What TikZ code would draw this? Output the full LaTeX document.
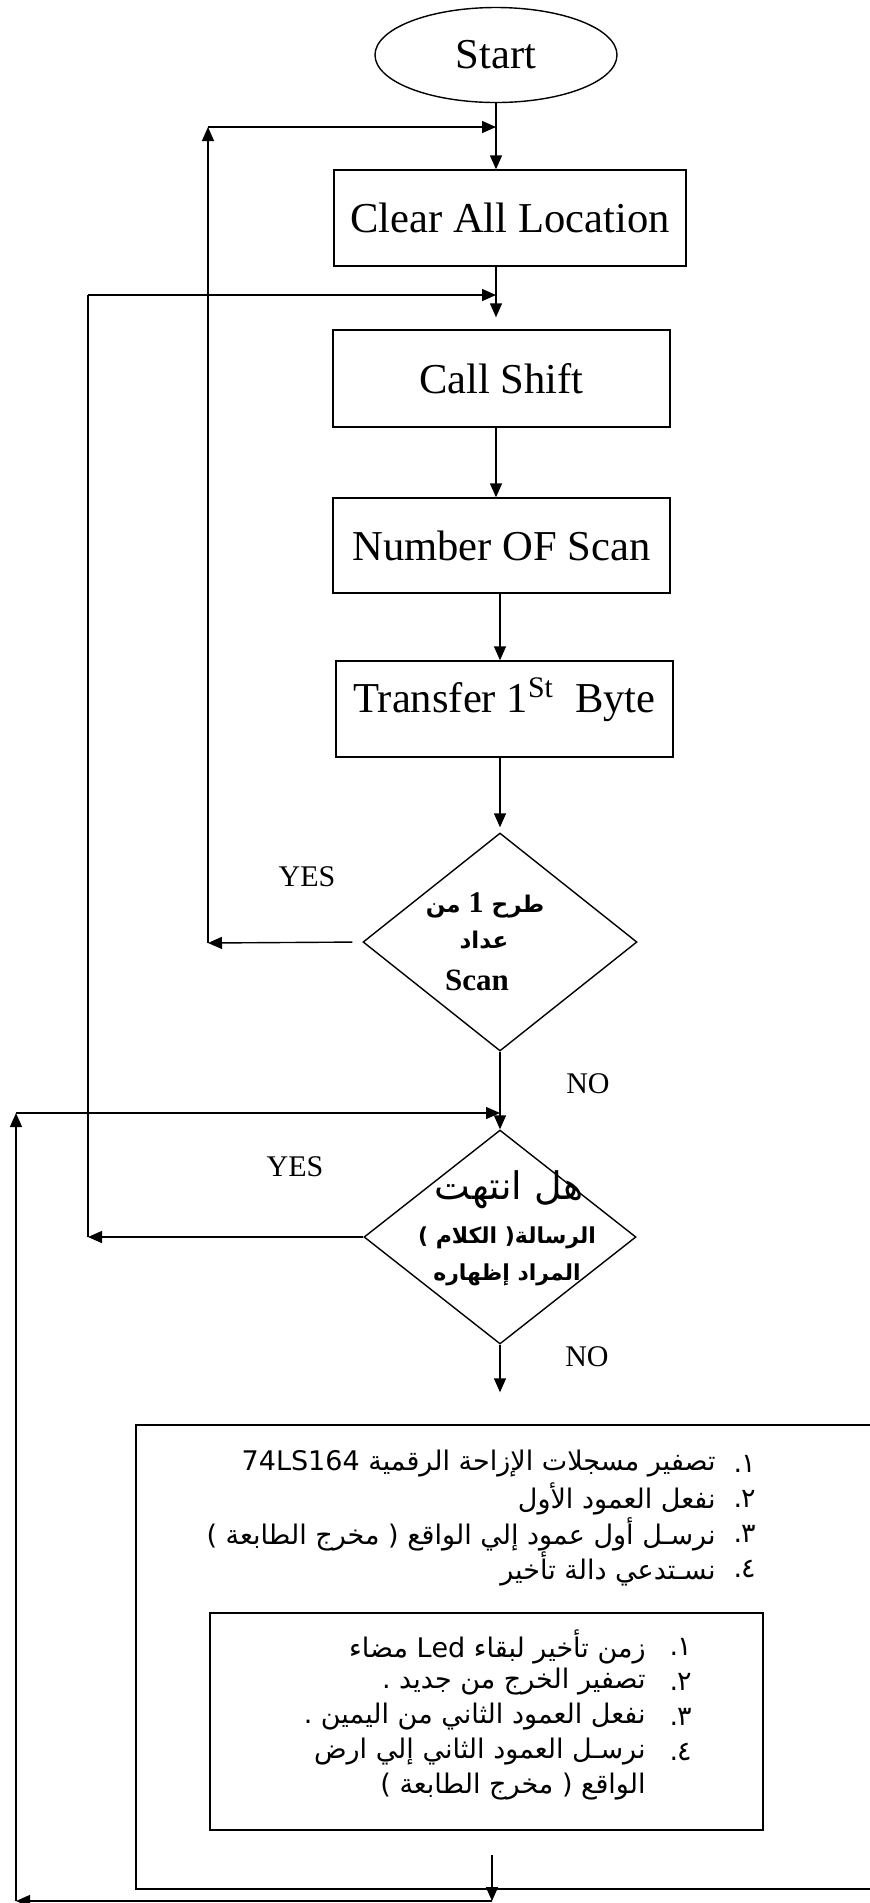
\documentclass[tikz,border=0pt]{standalone}
\usepackage{fontspec}
\setmainfont{Liberation Serif}
\newfontfamily\arfont[Script=Arabic]{DejaVu Sans}
\TeXXeTstate=1
\usetikzlibrary{arrows.meta, positioning, shapes.geometric}
\newcommand{\rtl}[1]{{\arfont\beginR #1\endR}}

\begin{document}
\begin{tikzpicture}[x=0.5pt, y=-0.5pt,
    box/.style={draw, line width=0.7pt, inner sep=0pt, font=\fontsize{21.3}{25}\selectfont},
    dec/.style={draw, diamond, line width=0.7pt, inner sep=0pt},
    arr/.style={-{Triangle[length=7pt, width=6pt]}, line width=0.7pt},
    lbl/.style={font=\fontsize{15}{18}\selectfont},
    qtxt/.style={inner sep=0pt, font=\bfseries\fontsize{11}{13}\selectfont},
    num/.style={anchor=east, inner sep=0pt, font=\arfont\fontsize{13.5}{16}\selectfont},
    lst/.style={anchor=east, inner sep=0pt, font=\fontsize{13.5}{16}\selectfont}
]
\useasboundingbox (0,0) rectangle (869,1903);

% Main flow
\node[ellipse, draw, line width=0.7pt, minimum width=121pt, minimum height=47.5pt, font=\fontsize{21.3}{25}\selectfont] (start) at (496,55) {Start};
\node[box, minimum width=176pt, minimum height=48pt] (clear) at (510,218) {Clear All Location};
\node[box, minimum width=168.5pt, minimum height=48.5pt] (shift) at (501.5,378.5) {Call Shift};
\node[box, minimum width=168.5pt, minimum height=47.5pt] (scan) at (501.5,545.5) {Number OF Scan};
\node[box, minimum width=168.5pt, minimum height=48pt] (byte) at (504.5,709) {\raisebox{14pt}{Transfer 1\textsuperscript{St}\ \ Byte}};

% Decisions
\node[dec, minimum width=137pt, minimum height=109pt] (q1) at (500,942) {};
\node[qtxt, font=\bfseries\fontsize{11.5}{13}\selectfont] (q1a) at (485,905) {\rtl{طرح \beginL{\rmfamily\fontsize{15}{15}\selectfont 1}\endL{} من}};
\node[qtxt, font=\bfseries\fontsize{11.5}{13}\selectfont] (q1b) at (484,940) {\rtl{عداد}};
\node[qtxt, font=\bfseries\fontsize{15.5}{18}\selectfont] (q1c) at (477,980) {Scan};

\node[dec, minimum width=136pt, minimum height=107pt] (q2) at (500,1237) {};
\node[inner sep=0pt, font=\fontsize{19}{21}\selectfont] (q2a) at (509,1190) {\rtl{هل انتهت}};
\node[qtxt] (q2b) at (507,1238) {\rtl{الرسالة( الكلام )}};
\node[qtxt] (q2c) at (507,1275) {\rtl{المراد إظهاره}};

% Labels
\node[lbl] (yes1) at (307,877) {YES};
\node[lbl] (no1) at (588,1084) {NO};
\node[lbl] (yes2) at (295,1167) {YES};
\node[lbl] (no2) at (587,1357) {NO};

% Display routine
\node[draw, line width=0.7pt, inner sep=0pt, minimum width=367.5pt, minimum height=232pt] (outer) at (503.5,1657) {};
\node[draw, line width=0.7pt, inner sep=0pt, minimum width=276.5pt, minimum height=108.5pt] (inner) at (486.5,1721.5) {};

\foreach \yy/\nn/\txt [count=\i] in {
    1464/١/{تصفير مسجلات الإزاحة الرقمية \beginL 74LS164\endL{}},
    1499/٢/{نفعل العمود الأول},
    1534/٣/{نرسـل أول عمود إلي الواقع ( مخرج الطابعة )},
    1569/٤/{نسـتدعي دالة تأخير}} {
    \node[num] (on\i) at (756,\yy) {.\kern-0.5pt\nn};
    \node[lst] (ot\i) at (716,\yy) {\rtl{\txt}};
}
\foreach \yy/\nn/\txt [count=\i] in {
    1647/١/{زمن تأخير لبقاء \beginL Led\endL{} مضاء},
    1682/٢/{تصفير الخرج من جديد .},
    1717/٣/{نفعل العمود الثاني من اليمين .},
    1752/٤/{نرسـل العمود الثاني إلي ارض}} {
    \node[num] (in\i) at (692,\yy) {.\kern-0.5pt\nn};
    \node[lst] (it\i) at (646,\yy) {\rtl{\txt}};
}
\node[lst] (it5) at (646,1787) {\rtl{الواقع ( مخرج الطابعة )}};

% Arrows
\draw[arr] (start) -- (start.south |- clear.north);
\draw[arr, shorten >=6pt] (clear.south -| start.south) -- (shift.north -| start.south);
\draw[arr] (shift.south -| start.south) -- (scan.north -| start.south);
\draw[arr] (scan.south -| q1.north) -- (byte.north -| q1.north);
\draw[arr, shorten >=2.5pt] (byte.south -| q1.north) -- (q1.north);
\draw[arr] (q1.south) -- (q2.north);
\draw[arr, shorten >=16pt] (q2.south) -- (q2.south |- outer.north);

% Loops
\coordinate (y1) at (208,943);
\coordinate (y1t) at (208,127);
\draw[arr, shorten <=5pt] (q1.west) -- (y1);
\draw[arr] (y1) -- (y1t);
\draw[arr] (y1t) -- (y1t -| start.south);

\coordinate (y2) at (88,1237);
\coordinate (y2t) at (88,295);
\draw[arr] (q2.west) -- (y2);
\draw[line width=0.7pt] (y2) -- (y2t);
\draw[arr] (y2t) -- (y2t -| start.south);

\coordinate (y3s) at (492,1855);
\coordinate (y3) at (492,1901);
\coordinate (y3b) at (16,1901);
\coordinate (y3t) at (16,1113);
\draw[arr] (y3s) -- (y3);
\draw[arr] (y3) -- (y3b);
\draw[arr] (y3b) -- (y3t);
\draw[arr] (y3t) -- (y3t -| q1.south);
\end{tikzpicture}
\end{document}
